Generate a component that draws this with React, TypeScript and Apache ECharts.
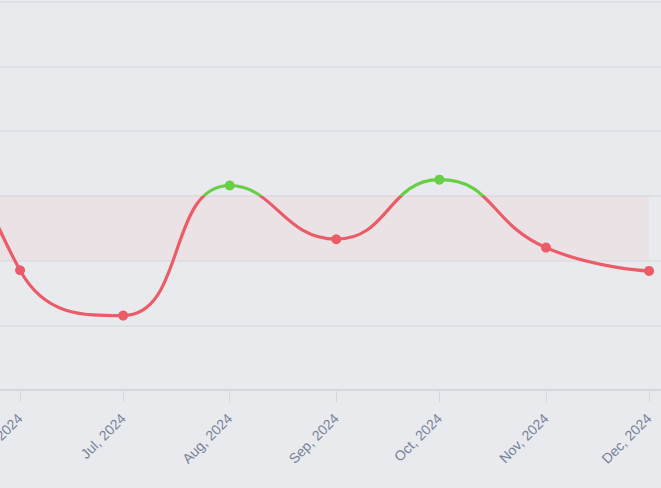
import React, { useEffect, useRef } from "react";
import * as echarts from "echarts";

const dates = [
  "2024-05-01",
  "2024-06-01",
  "2024-07-01",
  "2024-08-01",
  "2024-09-01",
  "2024-10-01",
  "2024-11-01",
  "2024-12-01",
];
const values = [7.2, 1.85, 1.15, 3.16, 2.33, 3.25, 2.2, 1.84];
const monthNames = ["Jan", "Feb", "Mar", "Apr", "May", "Jun", "Jul", "Aug", "Sep", "Oct", "Nov", "Dec"];
const threshold = 3;
const bandLow = 2;
const xMin = "2024-05-01";
const xMax = "2024-12-10";

function ts(s: string): number {
  const [y, m, d] = s.split("-").map(Number);
  return new Date(y, m - 1, d).getTime();
}

export default function App() {
  const ref = useRef<HTMLDivElement>(null);
  useEffect(() => {
    if (!ref.current) return;
    const chart = echarts.init(ref.current, null, { renderer: "svg" });
    chart.setOption({
      animation: false,
      backgroundColor: "#e9eaee",
      grid: { left: -86.5, right: -19, top: 1.7, bottom: 98, containLabel: false, outerBoundsMode: "none" },
      xAxis: {
        type: "time",
        min: ts(xMin),
        max: ts(xMax),
        axisLine: { lineStyle: { color: "#d3d4da", width: 1.5 } },
        axisTick: { show: true, length: 12, lineStyle: { color: "#d6d7dd" } },
        splitLine: { show: false },
        axisLabel: {
          rotate: 45,
          margin: 26,
          color: "#77839a",
          fontSize: 14,
          fontFamily: "Liberation Sans, Arial, sans-serif",
          formatter: (v: number) => {
            const d = new Date(v);
            return monthNames[d.getMonth()] + ", " + d.getFullYear();
          },
        },
      },
      yAxis: {
        type: "value",
        min: 0,
        max: 6,
        interval: 1,
        axisLine: { show: false },
        axisTick: { show: false },
        axisLabel: { show: false },
        splitLine: { lineStyle: { color: "#dbdce2", width: 1.5 } },
      },
      visualMap: {
        type: "piecewise",
        show: false,
        dimension: 1,
        seriesIndex: 0,
        pieces: [
          { gt: -1000, lte: threshold, color: "#ea5c67" },
          { gt: threshold, lte: 1000, color: "#67cf45" },
        ],
      },
      series: [
        {
          type: "line",
          smooth: true,
          symbol: "circle",
          symbolSize: 10,
          lineStyle: { width: 3.2 },
          itemStyle: { borderWidth: 0 },
          data: dates.map((d, i) => [ts(d), values[i]]),
          markArea: {
            silent: true,
            itemStyle: { color: "rgba(253,154,168,0.1)" },
            data: [[{ xAxis: ts(dates[0]), yAxis: bandLow }, { xAxis: ts(dates[dates.length - 1]), yAxis: threshold }]],
          },
        },
      ],
    });
    return () => chart.dispose();
  }, []);
  return <div ref={ref} style={{ position: "absolute", left: 0, top: 0, width: 661, height: 488 }} />;
}
